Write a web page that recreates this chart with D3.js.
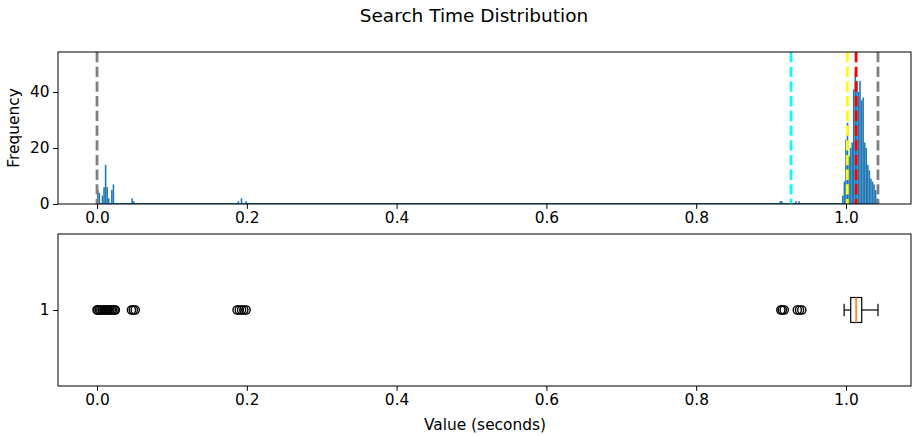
<!DOCTYPE html>
<html>
<head>
<meta charset="utf-8">
<script src="https://cdn.jsdelivr.net/npm/d3@7"></script>
<style>
  html, body { margin: 0; padding: 0; background: #fff; }
  svg { display: block; font-family: "DejaVu Sans", sans-serif; }
</style>
</head>
<body>
<svg id="chart" width="912" height="436"></svg>
<script>
// Histogram: 500 equal bins from the fastest to the slowest search.
const binStart = 0.0;
const binWidth = 0.0020854;
const binIndex = [0, 1, 3, 4, 5, 6, 7, 9, 10, 22, 23, 90, 92, 95, 437, 438, 447, 449,
  477, 478, 479, 480, 481, 482, 483, 484, 485, 486, 487, 488, 489, 490, 491, 492, 493, 494, 495, 496, 497, 498, 499];
const binCount = [5, 4, 3, 6, 14, 6, 2, 5, 7, 2, 1, 1, 2, 1, 1, 1, 1, 1,
  3, 8, 23, 29, 17, 20, 22, 41, 47, 44, 40, 44, 37, 38, 22, 20, 14, 12, 9, 8, 7, 5, 2];

// Reference lines: min, mean, 10th percentile, median, max.
const refNames  = ["min", "mean", "p10", "median", "max"];
const refValues = [0.0, 0.9266, 1.0017, 1.0135, 1.0427];
const refColors = ["gray", "cyan", "yellow", "red", "gray"];

// Box plot summary and outliers.
const boxStats = [0.9975, 1.0063, 1.0135, 1.0210, 1.0427]; // whisker low, q1, median, q3, whisker high
const outliers = [0.0, 0.001, 0.003, 0.005, 0.007, 0.009, 0.011, 0.013, 0.015, 0.017, 0.019, 0.021, 0.023, 0.0245,
  0.046, 0.0485, 0.051, 0.187, 0.190, 0.193, 0.196, 0.199, 0.913, 0.915, 0.9175, 0.935, 0.938, 0.941];

const xTicks = [0.0, 0.2, 0.4, 0.6, 0.8, 1.0];
const yTicks = [0, 20, 40];

const svg = d3.select("#chart");
const left = 58, right = 911;
const top1 = 52, bottom1 = 204;
const top2 = 234, bottom2 = 386;

const x = d3.scaleLinear().domain([-0.0521, 1.0868]).range([left, right]);
const y = d3.scaleLinear().domain([0, 54.29]).range([bottom1, top1]);
const yb = d3.scaleLinear().domain([0.5, 1.5]).range([bottom2, top2]);

const fmt = d3.format(".1f");

// ---- histogram panel ----
const g1 = svg.append("g");
g1.selectAll("rect.bar")
  .data(binIndex.map((b, i) => ({ b, c: binCount[i] })))
  .join("rect")
  .attr("class", "bar")
  .attr("x", d => x(binStart + d.b * binWidth))
  .attr("width", d => x(binStart + (d.b + 1) * binWidth) - x(binStart + d.b * binWidth))
  .attr("y", d => y(d.c))
  .attr("height", d => y(0) - y(d.c))
  .attr("fill", "#1f77b4");

// zero baseline of empty bins
g1.append("line")
  .attr("x1", x(binStart)).attr("x2", x(binStart + 500 * binWidth))
  .attr("y1", y(0) - 0.5).attr("y2", y(0) - 0.5)
  .attr("stroke", "#1f77b4").attr("stroke-width", 1);

g1.selectAll("line.ref")
  .data(refValues.map((v, i) => ({ v, c: refColors[i], n: refNames[i] })))
  .join("line")
  .attr("class", "ref")
  .attr("x1", d => x(d.v)).attr("x2", d => x(d.v))
  .attr("y1", top1).attr("y2", bottom1)
  .attr("stroke", d => d.c)
  .attr("stroke-width", 2.8)
  .attr("stroke-dasharray", "10.3,4.4");

g1.append("g")
  .attr("transform", `translate(0,${bottom1})`)
  .call(d3.axisBottom(x).tickValues(xTicks).tickFormat(fmt).tickSize(4.9).tickPadding(3.5));
g1.append("g")
  .attr("transform", `translate(${left},0)`)
  .call(d3.axisLeft(y).tickValues(yTicks).tickSize(4.9).tickPadding(3.5));

g1.append("rect")
  .attr("x", left).attr("y", top1).attr("width", right - left).attr("height", bottom1 - top1)
  .attr("fill", "none").attr("stroke", "#000").attr("stroke-width", 1);

// ---- box plot panel ----
const g2 = svg.append("g");
const cy = yb(1);
const boxH = 25, capH = 12.5;
const [wLo, q1, med, q3, wHi] = boxStats;

g2.append("line").attr("x1", x(wLo)).attr("x2", x(q1)).attr("y1", cy).attr("y2", cy).attr("stroke", "#000").attr("stroke-width", 1.2);
g2.append("line").attr("x1", x(q3)).attr("x2", x(wHi)).attr("y1", cy).attr("y2", cy).attr("stroke", "#000").attr("stroke-width", 1.2);
g2.append("line").attr("x1", x(wLo)).attr("x2", x(wLo)).attr("y1", cy - capH / 2).attr("y2", cy + capH / 2).attr("stroke", "#000").attr("stroke-width", 1.2);
g2.append("line").attr("x1", x(wHi)).attr("x2", x(wHi)).attr("y1", cy - capH / 2).attr("y2", cy + capH / 2).attr("stroke", "#000").attr("stroke-width", 1.2);
g2.append("rect")
  .attr("x", x(q1)).attr("y", cy - boxH / 2)
  .attr("width", x(q3) - x(q1)).attr("height", boxH)
  .attr("fill", "#fff").attr("stroke", "#000").attr("stroke-width", 1.2);
g2.append("line").attr("x1", x(med)).attr("x2", x(med))
  .attr("y1", cy - boxH / 2).attr("y2", cy + boxH / 2)
  .attr("stroke", "#ff7f0e").attr("stroke-width", 1.6);

g2.selectAll("circle.flier")
  .data(outliers)
  .join("circle")
  .attr("class", "flier")
  .attr("cx", d => x(d)).attr("cy", cy).attr("r", 4.1)
  .attr("fill", "none").attr("stroke", "#000").attr("stroke-width", 1.4);

g2.append("g")
  .attr("transform", `translate(0,${bottom2})`)
  .call(d3.axisBottom(x).tickValues(xTicks).tickFormat(fmt).tickSize(4.9).tickPadding(3.5));
g2.append("g")
  .attr("transform", `translate(${left},0)`)
  .call(d3.axisLeft(yb).tickValues([1]).tickFormat(d3.format("d")).tickSize(4.9).tickPadding(3.5));

g2.append("rect")
  .attr("x", left).attr("y", top2).attr("width", right - left).attr("height", bottom2 - top2)
  .attr("fill", "none").attr("stroke", "#000").attr("stroke-width", 1);

// axis styling
svg.selectAll(".domain").remove();
svg.selectAll(".tick text").attr("font-size", "15.4px").attr("fill", "#000")
  .attr("font-family", "DejaVu Sans, sans-serif");
svg.selectAll(".tick line").attr("stroke", "#000").attr("stroke-width", 1);

// titles
svg.append("text").attr("x", 474).attr("y", 22).attr("text-anchor", "middle")
  .attr("font-size", "18.5px").text("Search Time Distribution");
svg.append("text").attr("x", 485).attr("y", 430).attr("text-anchor", "middle")
  .attr("font-size", "15.4px").text("Value (seconds)");
svg.append("text").attr("transform", `translate(19,${(top1 + bottom1) / 2}) rotate(-90)`)
  .attr("text-anchor", "middle").attr("font-size", "15.4px").text("Frequency");
</script>
</body>
</html>
